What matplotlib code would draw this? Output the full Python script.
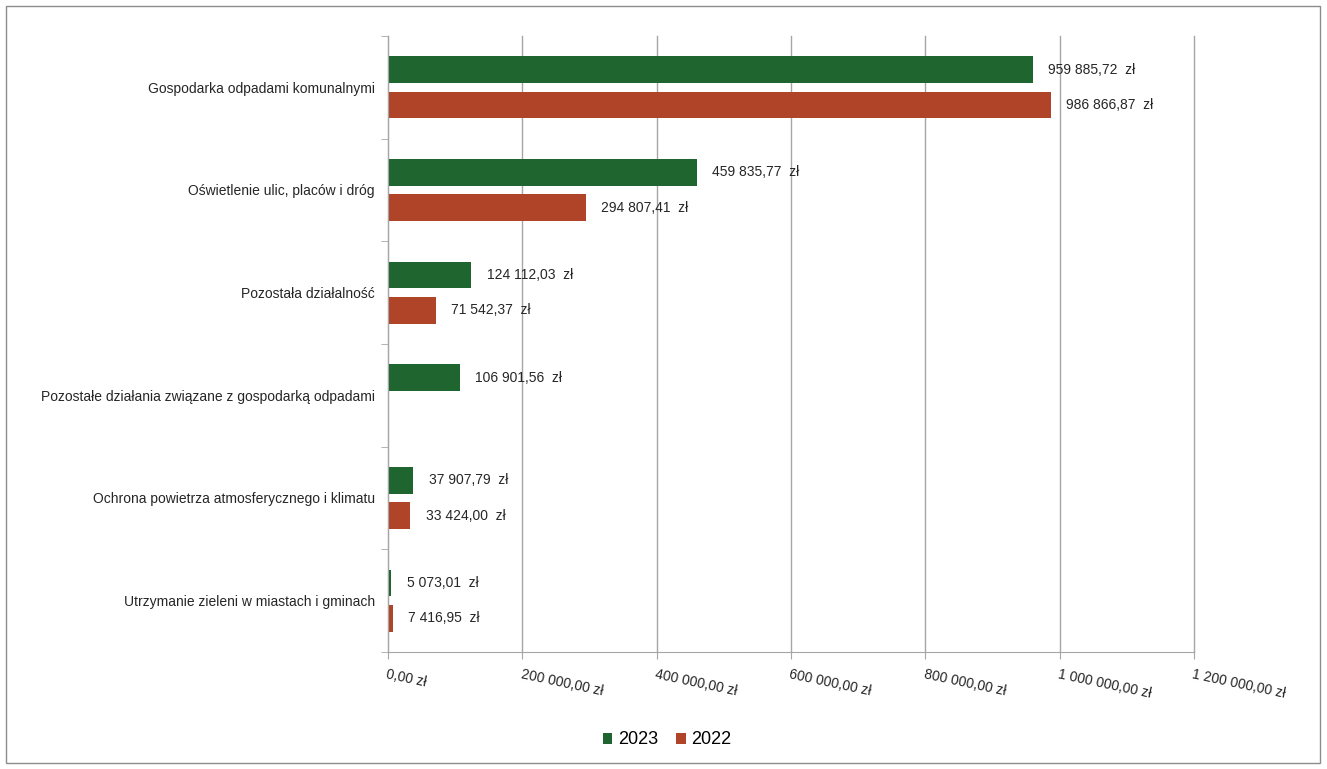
import matplotlib.pyplot as plt
import matplotlib.patches as mpatches
import numpy as np

plt.rcParams['font.family'] = ['Liberation Sans', 'DejaVu Sans']

categories = ["Gospodarka odpadami komunalnymi",
              "Oświetlenie ulic, placów i dróg",
              "Pozostała działalność",
              "Pozostałe działania związane z gospodarką odpadami",
              "Ochrona powietrza atmosferycznego i klimatu",
              "Utrzymanie zieleni w miastach i gminach"]
vals_2023 = [959885.72, 459835.77, 124112.03, 106901.56, 37907.79, 5073.01]
vals_2022 = [986866.87, 294807.41, 71542.37, np.nan, 33424.00, 7416.95]
xticks = [0, 200000, 400000, 600000, 800000, 1000000, 1200000]

green = '#1e6530'
red = '#b04428'
grid_c = '#a6a6a6'


def pln(v):
    s = f"{v:,.2f}".replace(",", " ").replace(".", ",")
    return s


fig = plt.figure(figsize=(13.27, 7.69), dpi=100)
fig.patches.append(mpatches.Rectangle((6 / 1327, 6 / 769), 1314 / 1327, 757 / 769,
                                      transform=fig.transFigure, fill=False,
                                      edgecolor='#8c8c8c', linewidth=1))
ax = fig.add_axes([388 / 1327, 1 - 652 / 769, 806 / 1327, 616 / 769])

y = np.arange(len(categories))
h = 0.26
off = 0.172
b1 = ax.barh(y - off, vals_2023, height=h, color=green, label='2023')
b2 = ax.barh(y + off, vals_2022, height=h, color=red, label='2022')

for bars, vals in ((b1, vals_2023), (b2, vals_2022)):
    for b, v in zip(bars, vals):
        if np.isnan(v):
            continue
        ax.annotate(pln(v) + "  zł", (v, b.get_y() + b.get_height() / 2),
                    xytext=(11, 0), textcoords='offset points',
                    ha='left', va='center', fontsize=10, color='#262626')

ax.set_xlim(0, 1200000)
ax.set_ylim(len(categories) - 0.5, -0.5)
ax.set_xticks(xticks)
ax.set_xticklabels([pln(v) + " zł" for v in xticks], rotation=-12, ha='left',
                   va='top', rotation_mode='anchor', fontsize=10, color='#262626')
ax.set_yticks(y)
ax.set_yticklabels(categories, fontsize=10, color='#262626')
ax.set_yticks(np.arange(-0.5, len(categories), 1), minor=True)
ax.tick_params(axis='y', which='major', length=0, pad=9.5)
ax.tick_params(axis='y', which='minor', length=5, color=grid_c, direction='out')
ax.tick_params(axis='x', length=5, color=grid_c, pad=6)
ax.grid(axis='x', color=grid_c, linewidth=1)
for gl in ax.get_xgridlines():
    gl.set_clip_on(False)
ax.set_axisbelow(True)
for s in ('top', 'right'):
    ax.spines[s].set_visible(False)
for s in ('left', 'bottom'):
    ax.spines[s].set_color(grid_c)

fig.legend(handles=[b1, b2], labels=['2023', '2022'], loc='center',
           bbox_to_anchor=(667 / 1327, 1 - 740 / 769), ncol=2, frameon=False,
           fontsize=13, handlelength=0.55, handleheight=0.55, handletextpad=0.3,
           columnspacing=1.0)

fig.savefig('out.png', dpi=100)
